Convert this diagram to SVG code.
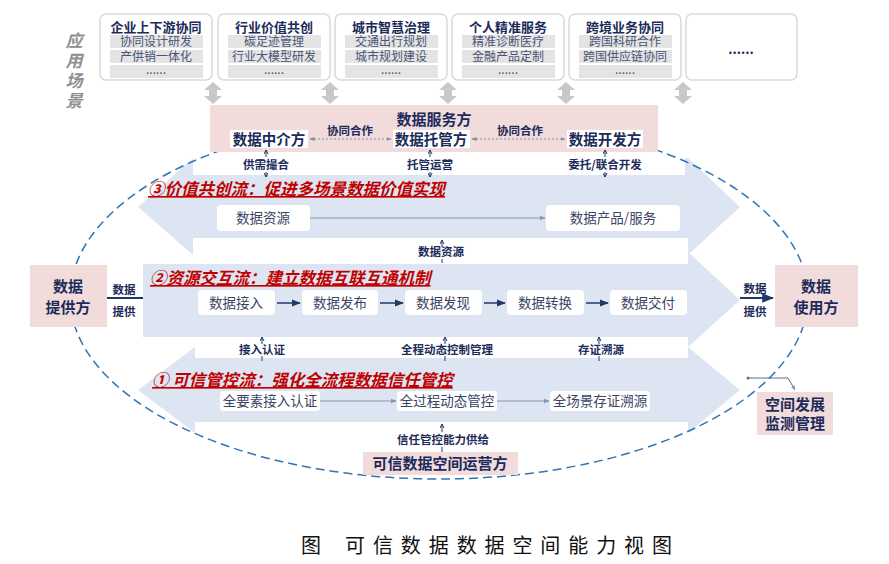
<svg xmlns="http://www.w3.org/2000/svg" width="889" height="564" viewBox="0 0 889 564">
<style>
text{font-family:"Noto Sans CJK SC","Noto Sans CJK JP",sans-serif;text-anchor:middle}
.nv{fill:#1c2b5a;font-weight:bold}
.bx{fill:#3a4564;font-size:13.5px}
.row{fill:#4a5575;font-size:12px}
.rt{fill:#e4e4e4}
.sc{fill:#fff;stroke:#d9d9d9;stroke-width:1.5}
.wb{fill:#fff}
.pk{fill:#f2dcdb}
.band{fill:#dce5f1}
.ttl{fill:#c00000;font-weight:bold;font-style:italic;font-size:16.5px;text-decoration:underline;text-anchor:start}
.dbl{fill:#c8c8c8}
.nl{stroke:#1f3864;stroke-width:1.5;fill:none}
.gl{stroke:#8497b0;stroke-width:1.2;fill:none}
.tk{stroke:#1f3864;stroke-width:1;fill:none}
</style>
<defs>
<marker id="an" viewBox="0 0 10 10" refX="9" refY="5" markerWidth="6" markerHeight="6" orient="auto"><path d="M0,1 L10,5 L0,9 z" fill="#1f3864"/></marker>
<marker id="ag" viewBox="0 0 10 10" refX="9" refY="5" markerWidth="5" markerHeight="5" orient="auto"><path d="M0,1 L10,5 L0,9 z" fill="#8497b0"/></marker>
<marker id="as" viewBox="0 0 10 10" refX="9" refY="5" markerWidth="5" markerHeight="5" orient="auto"><path d="M1,1 L9,5 L1,9" fill="none" stroke="#1f3864" stroke-width="2"/></marker>
<marker id="ad" viewBox="0 0 10 10" refX="9" refY="5" markerWidth="5" markerHeight="5" orient="auto-start-reverse"><path d="M0,1 L10,5 L0,9 z" fill="#7f8fa9"/></marker>
</defs>

<!-- vertical label -->
<g id="label-scenes" fill="#8f8f8f" font-size="17" font-weight="bold" font-style="italic">
<text x="74" y="47">应</text><text x="74" y="67">用</text><text x="74" y="87">场</text><text x="74" y="107">景</text>
</g>

<!-- scenario boxes -->
<g id="scene1"><rect class="sc" x="100" y="14" width="112" height="66" rx="6"/><text class="nv" x="156" y="32" font-size="13">企业上下游协同</text>
<rect class="rt" x="110" y="35" width="93" height="13"/><rect class="rt" x="110" y="50" width="93" height="13"/><rect class="rt" x="110" y="65" width="93" height="13"/>
<text class="row" x="156" y="46">协同设计研发</text><text class="row" x="156" y="61">产供销一体化</text><text class="row" x="156" y="74" font-size="10">......</text></g>
<g id="scene2"><rect class="sc" x="218" y="14" width="112" height="66" rx="6"/><text class="nv" x="274" y="32" font-size="13">行业价值共创</text>
<rect class="rt" x="228" y="35" width="93" height="13"/><rect class="rt" x="228" y="50" width="93" height="13"/><rect class="rt" x="228" y="65" width="93" height="13"/>
<text class="row" x="274" y="46">碳足迹管理</text><text class="row" x="274" y="61">行业大模型研发</text><text class="row" x="274" y="74" font-size="10">......</text></g>
<g id="scene3"><rect class="sc" x="335" y="14" width="112" height="66" rx="6"/><text class="nv" x="391" y="32" font-size="13">城市智慧治理</text>
<rect class="rt" x="345" y="35" width="93" height="13"/><rect class="rt" x="345" y="50" width="93" height="13"/><rect class="rt" x="345" y="65" width="93" height="13"/>
<text class="row" x="391" y="46">交通出行规划</text><text class="row" x="391" y="61">城市规划建设</text><text class="row" x="391" y="74" font-size="10">......</text></g>
<g id="scene4"><rect class="sc" x="452" y="14" width="112" height="66" rx="6"/><text class="nv" x="508" y="32" font-size="13">个人精准服务</text>
<rect class="rt" x="462" y="35" width="93" height="13"/><rect class="rt" x="462" y="50" width="93" height="13"/><rect class="rt" x="462" y="65" width="93" height="13"/>
<text class="row" x="508" y="46">精准诊断医疗</text><text class="row" x="508" y="61">金融产品定制</text><text class="row" x="508" y="74" font-size="10">......</text></g>
<g id="scene5"><rect class="sc" x="569" y="14" width="112" height="66" rx="6"/><text class="nv" x="625" y="32" font-size="13">跨境业务协同</text>
<rect class="rt" x="579" y="35" width="93" height="13"/><rect class="rt" x="579" y="50" width="93" height="13"/><rect class="rt" x="579" y="65" width="93" height="13"/>
<text class="row" x="625" y="46">跨国科研合作</text><text class="row" x="625" y="61">跨国供应链协同</text><text class="row" x="625" y="74" font-size="10">......</text></g>
<g id="scene6"><rect class="sc" x="686" y="14" width="111" height="66" rx="6"/><text class="nv" x="741" y="54" font-size="13">......</text></g>

<!-- gray double arrows -->
<g id="scene-links" class="dbl">
<path d="M213,82 L222,90 L217,90 L217,96 L222,96 L213,104 L204,96 L209,96 L209,90 L204,90 Z"/>
<path d="M330,82 L339,90 L334,90 L334,96 L339,96 L330,104 L321,96 L326,96 L326,90 L321,90 Z"/>
<path d="M448,82 L457,90 L452,90 L452,96 L457,96 L448,104 L439,96 L444,96 L444,90 L439,90 Z"/>
<path d="M566,82 L575,90 L570,90 L570,96 L575,96 L566,104 L557,96 L562,96 L562,90 L557,90 Z"/>
<path d="M683,82 L692,90 L687,90 L687,96 L692,96 L683,104 L674,96 L679,96 L679,90 L674,90 Z"/>
</g>

<!-- bands -->
<g id="bands">
<polygon class="band" points="138,207 193,158 688,158 740,207 688,255 193,255"/>
<polygon class="band" points="143,264 688,264 688,252 740,300 688,347 688,337 143,337"/>
<polygon class="band" points="138,390 195,347 688,347 740,390 688,433 688,422 195,422 195,433"/>
<rect class="wb" x="193" y="152" width="492" height="23"/>
<rect class="wb" x="193" y="238" width="495" height="25"/>
<rect class="wb" x="195" y="337" width="493" height="21"/>
</g>

<!-- dashed ellipse -->
<ellipse cx="439" cy="297" rx="369" ry="182" fill="none" stroke="#2e75b6" stroke-width="1.5" stroke-dasharray="9 5"/>

<!-- data service party -->
<g id="service">
<rect class="pk" x="210" y="105" width="448" height="47"/>
<text class="nv" x="434" y="125" font-size="15">数据服务方</text>
</g>
<g id="broker"><rect class="wb" x="230" y="130" width="78" height="18"/><text class="nv" x="269" y="144.5" font-size="14.5">数据中介方</text></g>
<g id="custodian"><rect class="wb" x="393" y="130" width="77" height="18"/><text class="nv" x="431" y="144.5" font-size="14.5">数据托管方</text></g>
<g id="developer"><rect class="wb" x="567" y="130" width="76" height="18"/><text class="nv" x="605" y="144.5" font-size="14.5">数据开发方</text></g>

<!-- bands titles and content -->
<g id="band3">
<text class="ttl" x="148" y="195">③价值共创流：促进多场景数据价值实现</text>
<rect class="wb" x="217" y="205" width="93" height="26" rx="4"/><text class="bx" x="263" y="223">数据资源</text>
<rect class="wb" x="546" y="205" width="134" height="26" rx="4"/><text class="bx" x="613" y="223">数据产品/服务</text>
</g>
<g id="band2">
<text class="ttl" x="150" y="284">②资源交互流：建立数据互联互通机制</text>
<rect class="wb" x="198" y="290" width="77" height="25" rx="4"/><text class="bx" x="236" y="308">数据接入</text>
<rect class="wb" x="302" y="290" width="76" height="25" rx="4"/><text class="bx" x="340" y="308">数据发布</text>
<rect class="wb" x="405" y="290" width="77" height="25" rx="4"/><text class="bx" x="443" y="308">数据发现</text>
<rect class="wb" x="507" y="290" width="77" height="25" rx="4"/><text class="bx" x="545" y="308">数据转换</text>
<rect class="wb" x="610" y="290" width="77" height="25" rx="4"/><text class="bx" x="648" y="308">数据交付</text>
</g>
<g id="band1">
<text class="ttl" x="152" y="386">① 可信管控流：强化全流程数据信任管控</text>
<rect class="wb" x="220" y="391" width="100" height="20" rx="3"/><text class="bx" x="270" y="406">全要素接入认证</text>
<rect class="wb" x="397" y="391" width="100" height="20" rx="3"/><text class="bx" x="447" y="406">全过程动态管控</text>
<rect class="wb" x="550" y="391" width="100" height="20" rx="3"/><text class="bx" x="600" y="406">全场景存证溯源</text>
</g>

<!-- side nodes -->
<g id="provider"><rect class="pk" x="30" y="265" width="77" height="62"/><text class="nv" x="68" y="292" font-size="15">数据</text><text class="nv" x="68" y="313" font-size="15">提供方</text></g>
<g id="consumer"><rect class="pk" x="775" y="265" width="83" height="62"/><text class="nv" x="816" y="292" font-size="15">数据</text><text class="nv" x="816" y="313" font-size="15">使用方</text></g>
<g id="monitor"><rect class="pk" x="757" y="392" width="76" height="43"/><text class="nv" x="795" y="410" font-size="15">空间发展</text><text class="nv" x="795" y="429" font-size="15">监测管理</text></g>
<g id="operator"><rect class="pk" x="363" y="452" width="155" height="23"/><text class="nv" x="440" y="469" font-size="15">可信数据空间运营方</text></g>

<!-- connectors -->
<g id="connectors">
<line x1="310" y1="139" x2="391" y2="139" stroke="#7f8fa9" stroke-width="1" stroke-dasharray="2 2" marker-start="url(#ad)" marker-end="url(#ad)"/>
<line x1="472" y1="139" x2="565" y2="139" stroke="#7f8fa9" stroke-width="1" stroke-dasharray="2 2" marker-start="url(#ad)" marker-end="url(#ad)"/>
<line class="gl" x1="310" y1="218" x2="545" y2="218" marker-end="url(#ag)"/>
<line class="nl" x1="277" y1="303" x2="300" y2="303" marker-end="url(#an)"/>
<line class="nl" x1="380" y1="303" x2="403" y2="303" marker-end="url(#an)"/>
<line class="nl" x1="484" y1="303" x2="505" y2="303" marker-end="url(#an)"/>
<line class="nl" x1="586" y1="303" x2="608" y2="303" marker-end="url(#an)"/>
<line class="gl" x1="320" y1="401" x2="396" y2="401" marker-end="url(#ag)"/>
<line class="gl" x1="497" y1="401" x2="549" y2="401" marker-end="url(#ag)"/>
<line x1="107" y1="298" x2="143" y2="298" stroke="#1f3864" stroke-width="2"/>
<line x1="740" y1="298" x2="773" y2="298" stroke="#1f3864" stroke-width="2" marker-end="url(#an)"/>
<polyline points="748,378 788,378 795,390" fill="none" stroke="#5d6d8d" stroke-width="1" marker-end="url(#ag)"/>
<circle cx="748" cy="378" r="1.5" fill="#5d6d8d"/>
<!-- ticks -->
<line class="tk" x1="266" y1="157" x2="266" y2="150" marker-end="url(#as)"/><line class="tk" x1="266" y1="172" x2="266" y2="177" marker-end="url(#as)"/>
<line class="tk" x1="430" y1="157" x2="430" y2="150" marker-end="url(#as)"/><line class="tk" x1="430" y1="172" x2="430" y2="177" marker-end="url(#as)"/>
<line class="tk" x1="605" y1="157" x2="605" y2="150" marker-end="url(#as)"/><line class="tk" x1="605" y1="172" x2="605" y2="177" marker-end="url(#as)"/>
<line class="tk" x1="442" y1="247" x2="442" y2="240" marker-end="url(#as)"/><line class="tk" x1="442" y1="259" x2="442" y2="263"/>
<line class="tk" x1="262" y1="344" x2="262" y2="337" marker-end="url(#as)"/><line class="tk" x1="262" y1="356" x2="262" y2="361"/>
<line class="tk" x1="445" y1="344" x2="445" y2="337" marker-end="url(#as)"/><line class="tk" x1="445" y1="356" x2="445" y2="361"/>
<line class="tk" x1="599" y1="344" x2="599" y2="337" marker-end="url(#as)"/><line class="tk" x1="599" y1="356" x2="599" y2="361"/>
<line class="tk" x1="442" y1="432" x2="442" y2="424" marker-end="url(#as)"/><line class="tk" x1="442" y1="447" x2="442" y2="452"/>
</g>

<!-- connector labels -->
<g id="labels" class="nv" font-size="11.5">
<text x="350" y="135">协同合作</text>
<text x="520" y="135">协同合作</text>
<text x="266" y="169">供需撮合</text>
<text x="430" y="169">托管运营</text>
<text x="605" y="169">委托/联合开发</text>
<text x="441" y="256">数据资源</text>
<text x="262" y="354">接入认证</text>
<text x="447" y="354">全程动态控制管理</text>
<text x="601" y="354">存证溯源</text>
<text x="443" y="444">信任管控能力供给</text>
<text x="124" y="294">数据</text>
<text x="124" y="316">提供</text>
<text x="755" y="293">数据</text>
<text x="755" y="316">提供</text>
</g>

<!-- caption -->
<g id="caption" fill="#111" font-size="20">
<text x="311" y="553">图</text>
<text x="345" y="553" style="text-anchor:start" textLength="327" lengthAdjust="spacing">可信数据数据空间能力视图</text>
</g>
</svg>
